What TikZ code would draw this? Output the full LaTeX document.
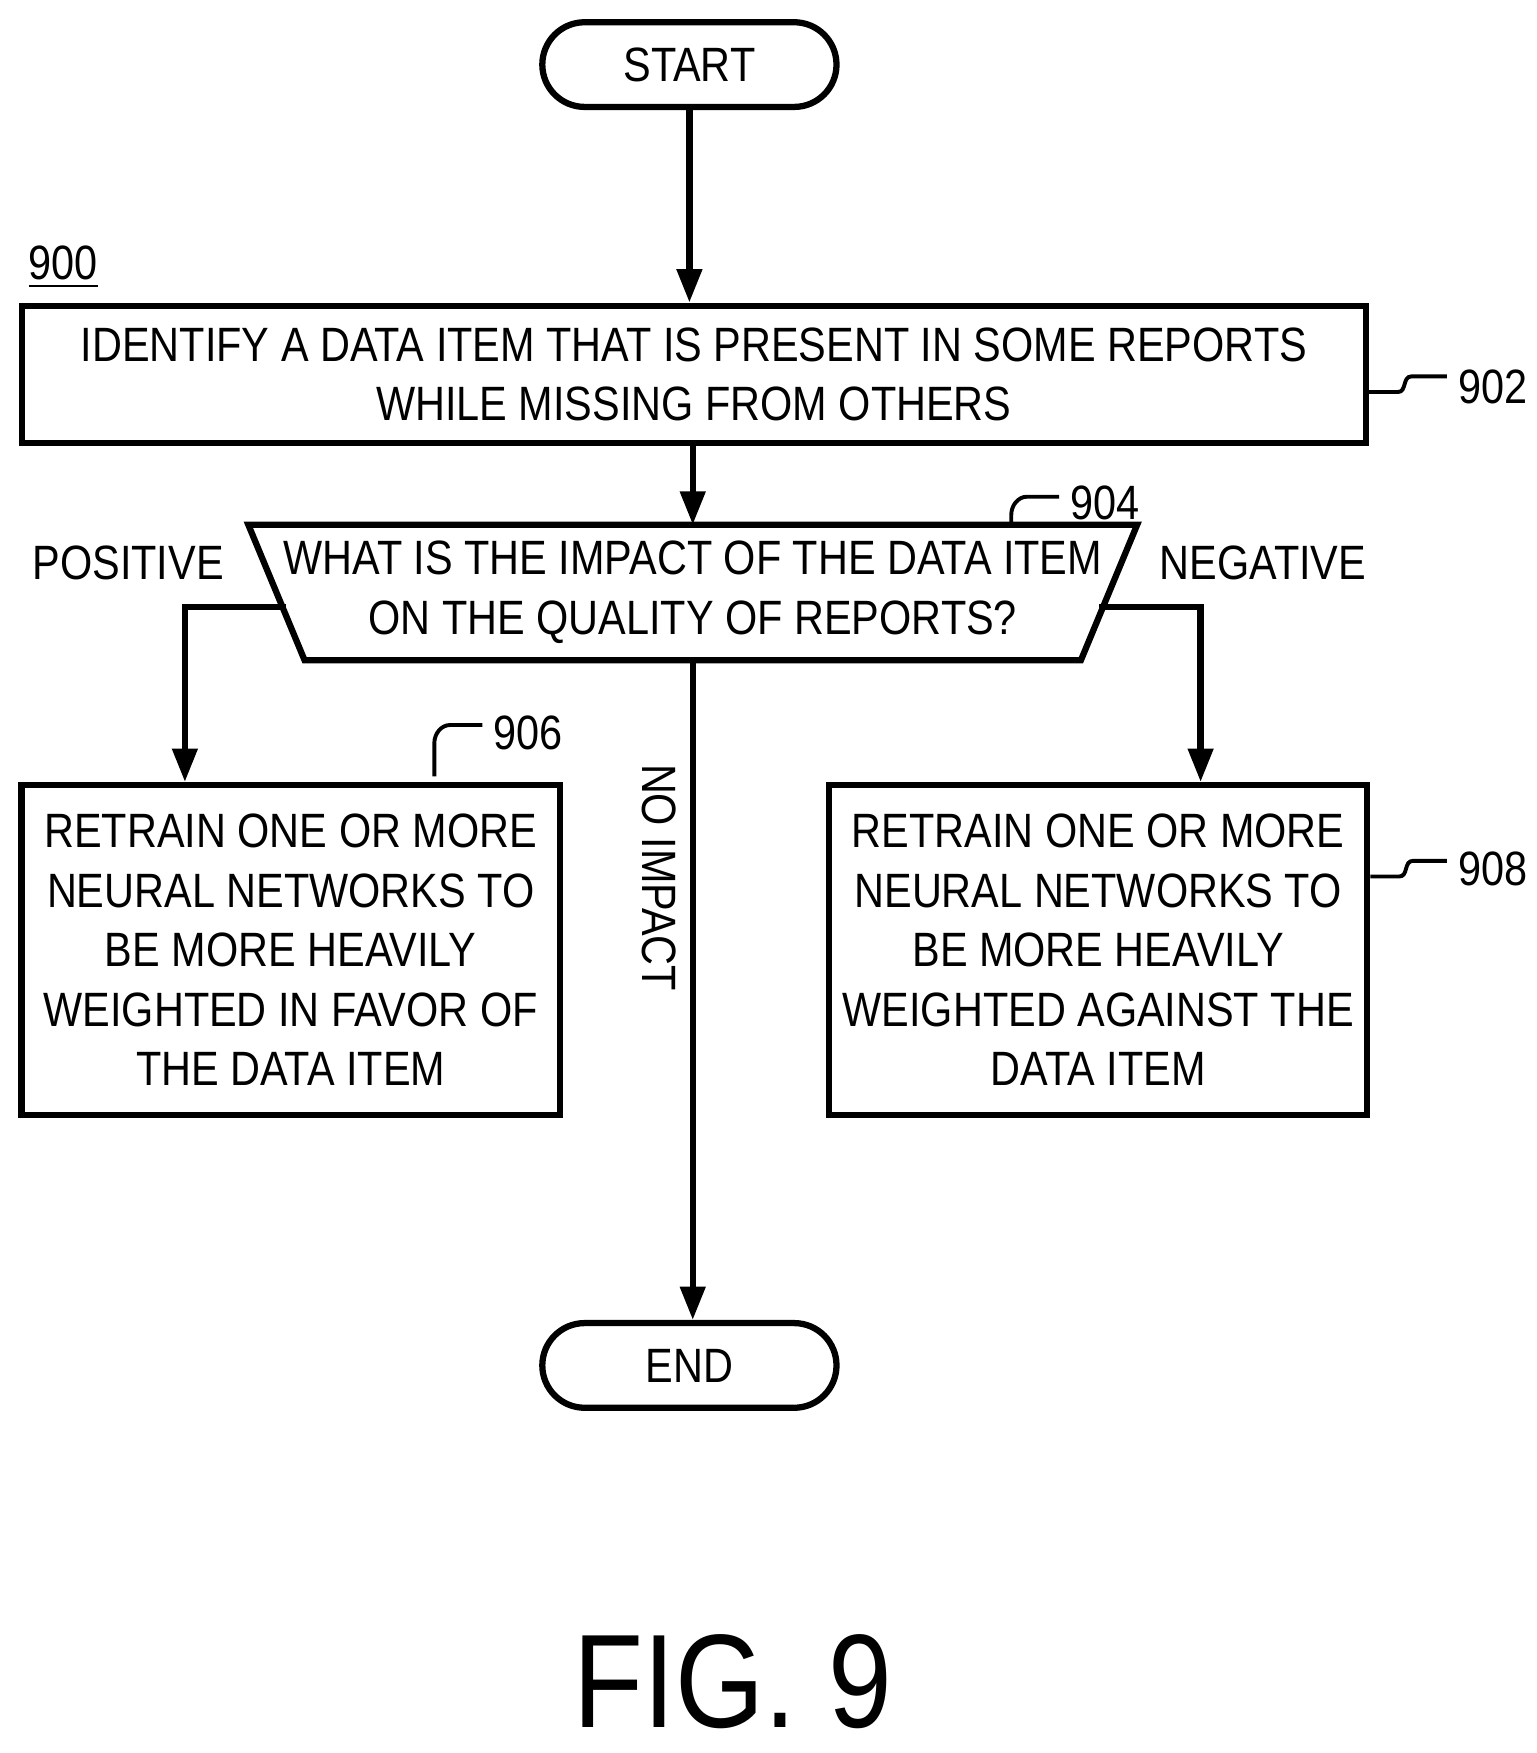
\documentclass[tikz,border=0pt]{standalone}
\usepackage{fontspec}
\setmainfont{Liberation Sans}[FakeStretch=0.86]
\usetikzlibrary{arrows.meta}
\tikzset{
  box/.style={draw, line width=1.6pt, align=center, inner sep=0pt, font=\fontsize{12.3}{15.2}\selectfont},
  term/.style={box, rounded corners=0.38cm, minimum width=2.64cm, minimum height=0.76cm},
  flow/.style={line width=1.6pt, -{Triangle[length=0.3cm,width=0.22cm]}},
  lbl/.style={font=\fontsize{12.3}{15}\selectfont},
  lead/.style={line width=1pt}
}
\begin{document}
\begin{tikzpicture}[x=0.01cm,y=-0.01cm]
    \useasboundingbox (0,0) rectangle (1380,1574);
    \node[term] (start) at (619,58) {START};
    \node[box, minimum width=12.06cm, minimum height=1.23cm] (b902) at (623,336)
        {IDENTIFY A DATA ITEM THAT IS PRESENT IN SOME REPORTS\\WHILE MISSING FROM OTHERS};
    \node[box, draw=none, minimum width=7.92cm, minimum height=1.16cm] (dec) at (622,532)
        {WHAT IS THE IMPACT OF THE DATA ITEM\\ON THE QUALITY OF REPORTS?};
    \draw[line width=1.6pt] (dec.north west) -- (dec.north east)
        -- ([xshift=-0.505cm]dec.south east) -- ([xshift=0.505cm]dec.south west) -- cycle;
    \coordinate (decl) at (257,545);
    \coordinate (decr) at (987,545);
    \node[box, minimum width=4.83cm, minimum height=2.96cm] (b906) at (261,853)
        {RETRAIN ONE OR MORE\\NEURAL NETWORKS TO\\BE MORE HEAVILY\\WEIGHTED IN FAVOR OF\\THE DATA ITEM};
    \node[box, minimum width=4.83cm, minimum height=2.96cm] (b908) at (986,853)
        {RETRAIN ONE OR MORE\\NEURAL NETWORKS TO\\BE MORE HEAVILY\\WEIGHTED AGAINST THE\\DATA ITEM};
    \node[term] (end) at (619,1226) {END};

    % labels
    \node[lbl] (n900) at (57,240) {\underline{900}};
    \node[lbl, anchor=west] (n902) at (1297,347) {902};
    \node[lbl, anchor=west] (n904) at (949,452) {904};
    \node[lbl, anchor=west] (n906) at (431,658) {906};
    \node[lbl, anchor=west] (n908) at (1297,780) {908};
    \node[lbl] (pos) at (115,505) {POSITIVE};
    \node[lbl] (neg) at (1134,505) {NEGATIVE};
    \node[lbl, rotate=-90] (noimp) at (592,788) {NO IMPACT};
    \node[font=\fontsize{34}{40}\selectfont] (fig) at (658,1510) {FIG. 9};

    % flow
    \draw[flow] (start.south) -- (start.south |- b902.north);
    \draw[flow] (b902.south -| dec.north) -- (dec.north);
    \draw[flow] (decl) -| (b906.north -| 166,0);
    \draw[flow] (decr) -| (b908.north -| 1078,0);
    \draw[flow] (dec.south) -- (end.north -| dec.south);

    % leaders
    \draw[lead] (b902.east |- 0,352) -- ++(26,0) .. controls +(8,0) and +(-8,0) .. ++(12,-14) -- (1299,338);
    \draw[lead] (b908.east |- 0,787) -- ++(26,0) .. controls +(8,0) and +(-8,0) .. ++(12,-14) -- (1299,773);
    \draw[lead] (908,472) -- ++(0,-10) .. controls +(0,-8) and +(-8,0) .. ++(14,-16) -- (951,446);
    \draw[lead] (390,697) -- ++(0,-30) .. controls +(0,-8) and +(-8,0) .. ++(14,-16) -- (433,651);
\end{tikzpicture}
\end{document}
